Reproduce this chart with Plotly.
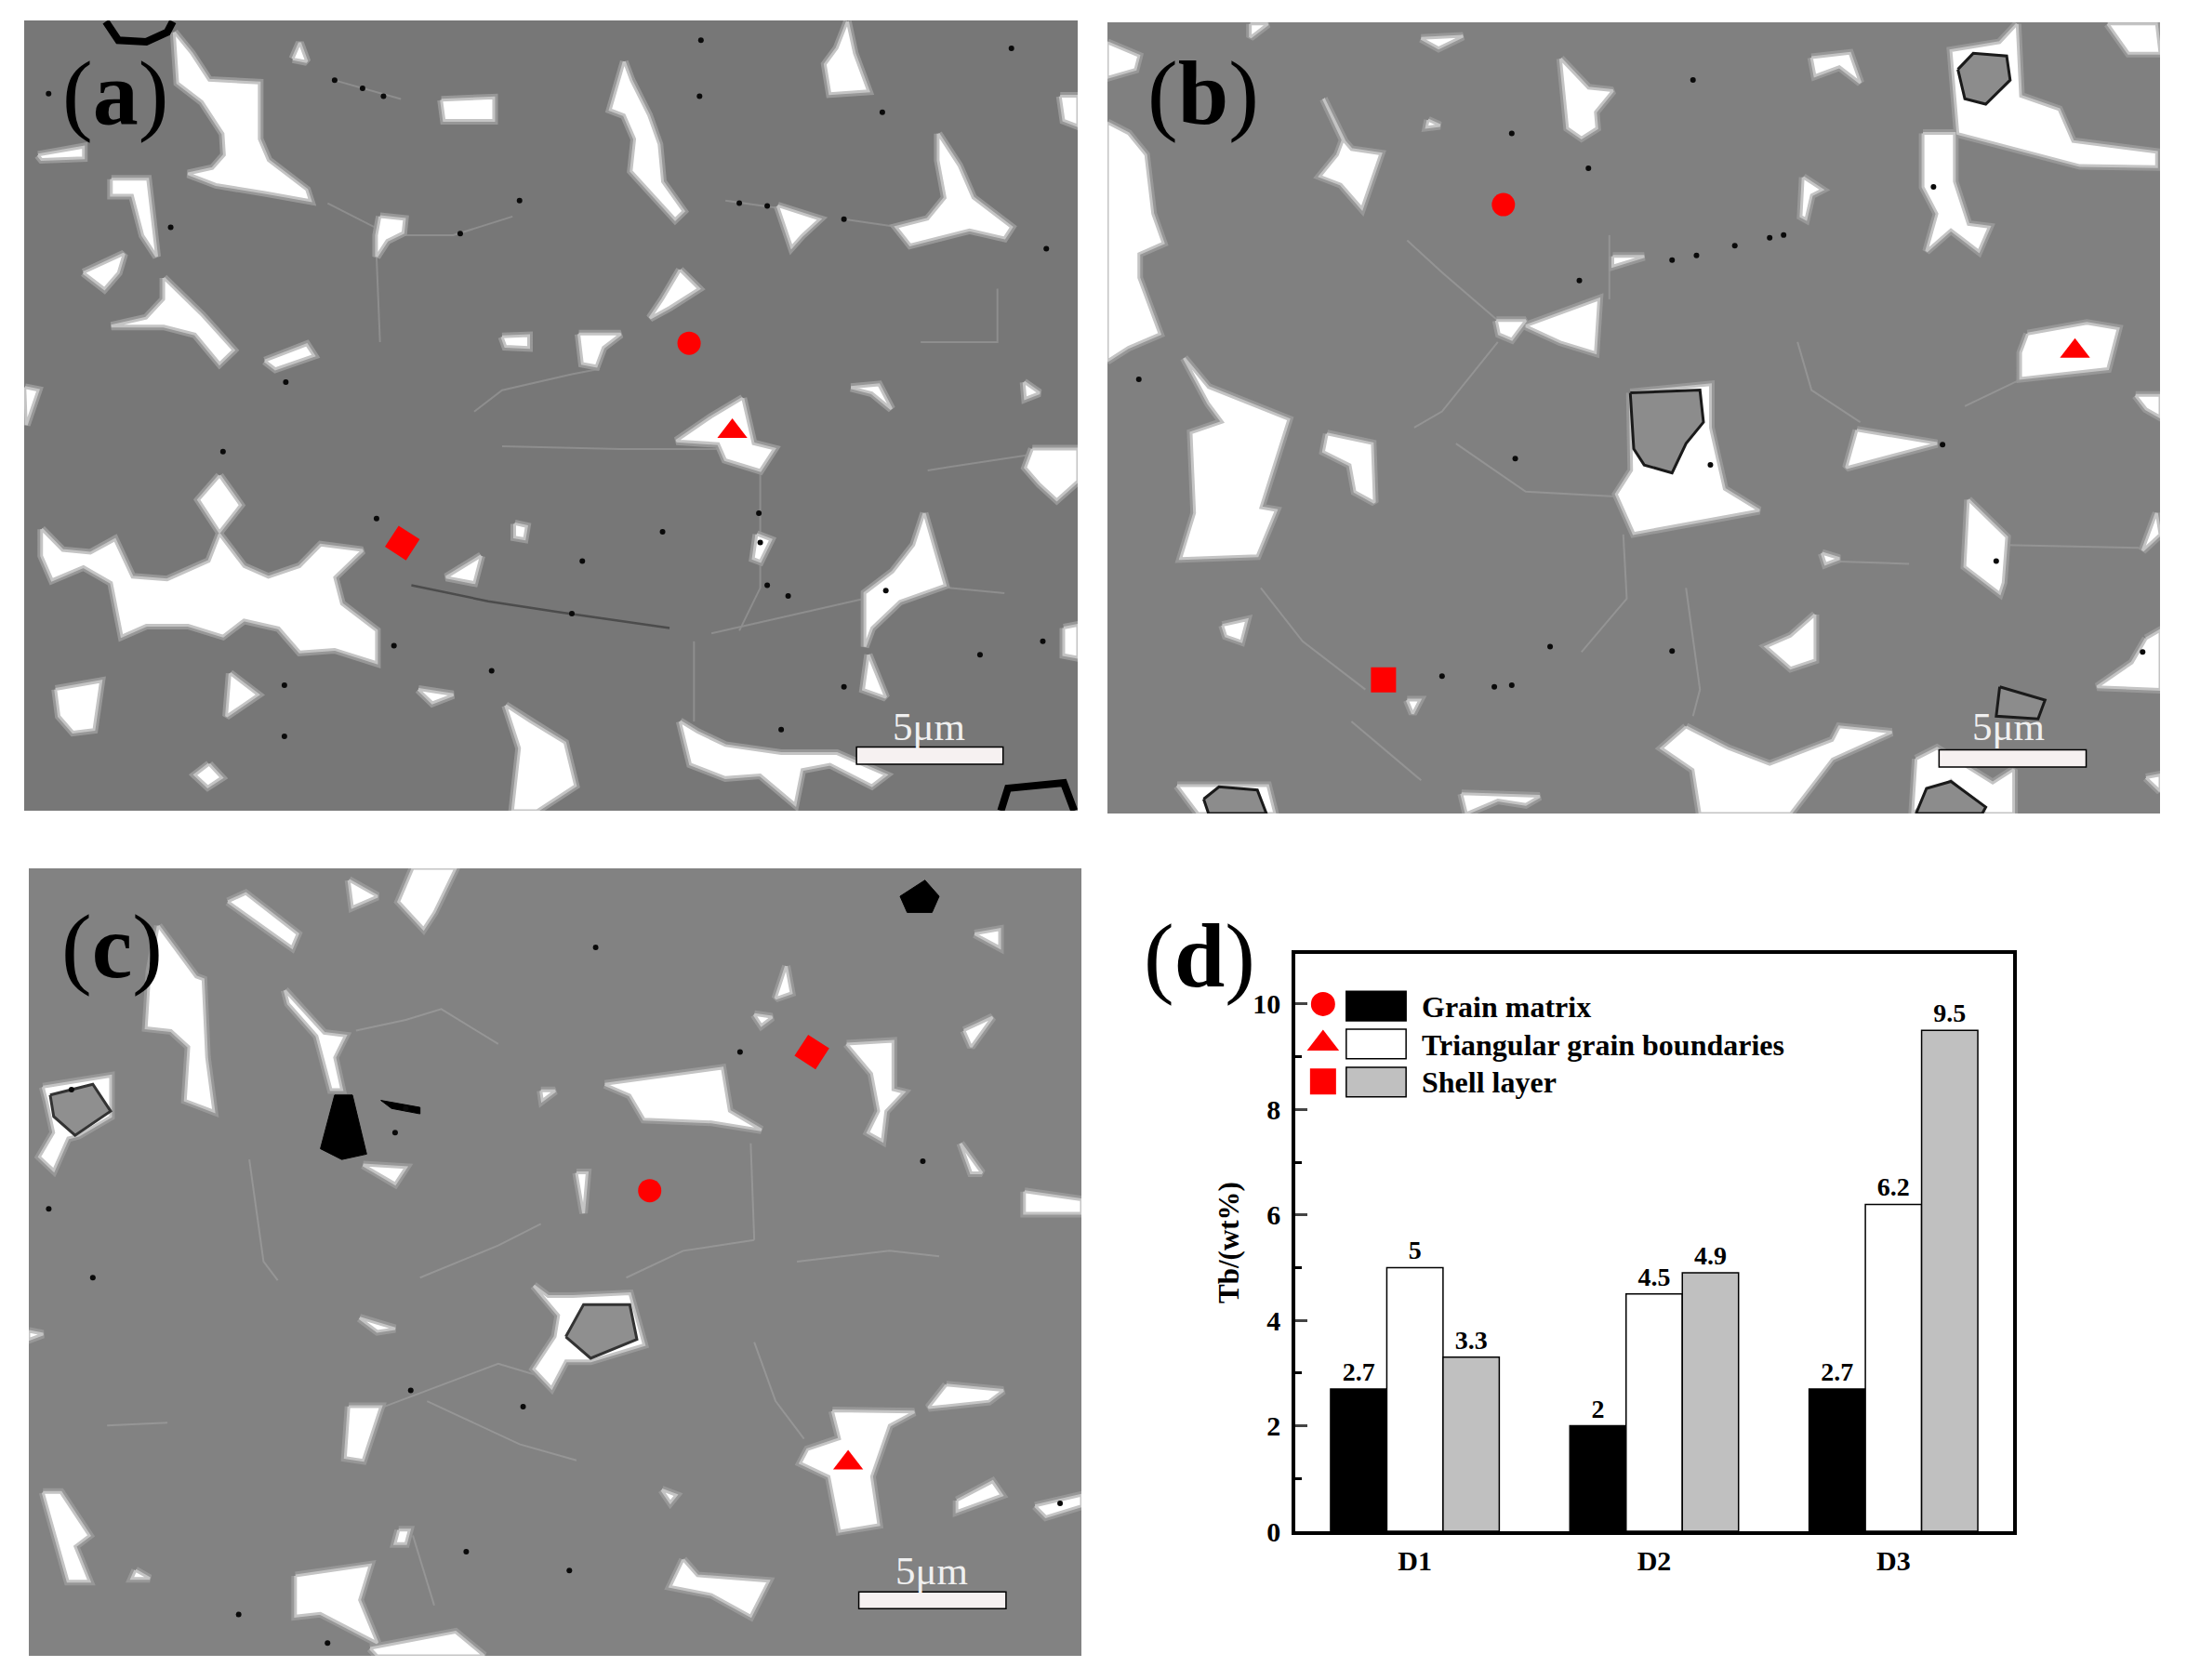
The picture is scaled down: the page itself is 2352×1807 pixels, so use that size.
import plotly.graph_objs as go

WIDTH = 2352
HEIGHT = 1807
SERIF = 'Liberation Serif'

# bar chart values, panel (d)
SAMPLES = ['D1', 'D2', 'D3']
SAMPLE_POS = [0, 1, 2]
GRAIN_MATRIX = [2.7, 2, 2.7]
TRIANGULAR = [5, 4.5, 6.2]
SHELL_LAYER = [3.3, 4.9, 9.5]
LEGEND_LABELS = ['Grain matrix', 'Triangular grain boundaries', 'Shell layer']
Y_TICKS = [0, 2, 4, 6, 8, 10]

# micrograph outlines, each panel in its own units
A_WHITE = [
    [(250, 60), (275, 100), (300, 150), (372, 155), (372, 260), (385, 300), (440, 355), (445, 375), (380, 360), (310, 345), (270, 325), (305, 315), (322, 290), (320, 250), (290, 190), (255, 155)],
    [(420, 110), (430, 80), (440, 115)],
    [(633, 187), (708, 183), (708, 225), (637, 225)],
    [(895, 115), (905, 150), (930, 215), (945, 270), (950, 340), (980, 395), (968, 410), (940, 370), (905, 320), (910, 260), (895, 215), (875, 205)],
    [(1215, 40), (1225, 100), (1245, 170), (1190, 175), (1183, 120), (1200, 90)],
    [(1520, 180), (1545, 180), (1545, 235), (1525, 225)],
    [(1345, 250), (1375, 310), (1395, 370), (1450, 425), (1440, 445), (1390, 430), (1305, 458), (1285, 425), (1330, 410), (1355, 370), (1345, 300)],
    [(1115, 385), (1175, 410), (1150, 440), (1135, 462)],
    [(545, 405), (580, 410), (578, 435), (555, 450), (540, 480), (540, 440)],
    [(160, 335), (212, 335), (225, 480), (205, 440), (190, 365), (160, 365)],
    [(55, 290), (120, 275), (120, 295), (60, 298)],
    [(120, 510), (178, 475), (170, 510), (150, 540)],
    [(235, 520), (290, 590), (335, 655), (315, 680), (280, 625), (235, 610), (160, 610), (210, 595), (235, 560)],
    [(975, 505), (1002, 540), (960, 575), (932, 595), (950, 560)],
    [(720, 630), (758, 628), (758, 650), (725, 648)],
    [(830, 625), (890, 625), (865, 650), (855, 685), (835, 680)],
    [(380, 675), (440, 645), (450, 665), (395, 690)],
    [(1065, 745), (1080, 830), (1110, 840), (1090, 880), (1040, 860), (1030, 830), (970, 825), (1020, 780)],
    [(1220, 725), (1260, 720), (1278, 765), (1250, 735)],
    [(1468, 715), (1490, 735), (1470, 745)],
    [(36, 725), (55, 730), (38, 795)],
    [(1480, 840), (1545, 840), (1545, 900), (1515, 935), (1490, 905), (1470, 875)],
    [(315, 890), (345, 945), (315, 995), (285, 935)],
    [(60, 990), (90, 1030), (130, 1035), (165, 1010), (190, 1080), (240, 1085), (300, 1050), (315, 1000), (350, 1060), (385, 1080), (430, 1060), (460, 1020), (520, 1030), (480, 1080), (490, 1130), (540, 1180), (540, 1240), (480, 1215), (430, 1220), (400, 1175), (350, 1160), (320, 1190), (270, 1170), (210, 1170), (175, 1190), (160, 1090), (120, 1060), (75, 1085), (60, 1040)],
    [(690, 1040), (680, 1090), (640, 1080)],
    [(738, 980), (755, 985), (752, 1008), (738, 1005)],
    [(1325, 960), (1355, 1095), (1290, 1125), (1250, 1175), (1240, 1210), (1240, 1110), (1280, 1070), (1310, 1020)],
    [(1085, 1000), (1105, 1010), (1090, 1050), (1080, 1045)],
    [(1245, 1225), (1270, 1305), (1238, 1290)],
    [(1525, 1175), (1545, 1170), (1545, 1230), (1525, 1225)],
    [(80, 1290), (145, 1275), (135, 1365), (105, 1370), (85, 1340)],
    [(330, 1260), (370, 1300), (325, 1340)],
    [(300, 1430), (318, 1455), (298, 1472), (280, 1450)],
    [(725, 1320), (760, 1350), (810, 1390), (825, 1470), (770, 1517), (735, 1517), (745, 1400)],
    [(975, 1350), (1000, 1370), (1040, 1395), (1120, 1410), (1200, 1410), (1270, 1450), (1250, 1470), (1190, 1430), (1150, 1440), (1140, 1505), (1090, 1450), (1040, 1455), (990, 1430)],
    [(600, 1290), (650, 1300), (620, 1315)],
]
A_RINGS = [
    [(152, 40), (170, 75), (210, 78), (240, 60), (248, 40)],
    [(1435, 1517), (1445, 1475), (1525, 1465), (1540, 1517)],
]
A_SCRATCH = [(590, 1095), (700, 1125), (800, 1145), (960, 1175)]
A_BOUNDARIES = [
    [(470, 380), (560, 440), (650, 440), (735, 405)],
    [(480, 150), (575, 185)],
    [(1040, 375), (1120, 390)],
    [(1210, 410), (1290, 425)],
    [(680, 770), (720, 730), (820, 700), (860, 690)],
    [(720, 835), (890, 840), (1040, 840)],
    [(1090, 880), (1090, 1100), (1060, 1180)],
    [(1020, 1185), (1240, 1120)],
    [(1330, 880), (1480, 850)],
    [(1320, 640), (1430, 640), (1430, 540)],
    [(1360, 1100), (1440, 1110)],
    [(540, 480), (545, 640)],
    [(995, 1200), (995, 1350)],
]
A_SPECKS = [(1005, 75), (1003, 180), (745, 375), (1100, 385), (1265, 210), (480, 150), (550, 180), (820, 1148), (565, 1208), (705, 1255), (408, 1282), (408, 1378), (1130, 1115), (1270, 1105), (1405, 1225), (1495, 1200), (1210, 1285), (540, 970), (1088, 960), (1100, 1095), (1450, 90), (70, 175), (245, 425), (660, 437), (520, 165), (1060, 380), (1210, 410), (410, 715), (320, 845), (835, 1050), (950, 995), (1090, 1015), (1120, 1365), (1500, 465)]

B_WHITE = [
    [(20, 80), (65, 105), (60, 130), (20, 145)],
    [(20, 230), (50, 250), (75, 290), (85, 400), (100, 455), (65, 475), (65, 520), (95, 625), (50, 650), (20, 675)],
    [(225, 45), (250, 45), (225, 70)],
    [(470, 72), (530, 68), (495, 90)],
    [(670, 110), (710, 165), (745, 170), (720, 210), (722, 240), (700, 258), (680, 240)],
    [(330, 185), (360, 265), (370, 280), (412, 288), (385, 390), (355, 345), (325, 330), (350, 290), (358, 262)],
    [(480, 225), (497, 235), (478, 238)],
    [(1030, 108), (1085, 100), (1100, 155), (1070, 125), (1035, 142)],
    [(1325, 45), (1330, 180), (1385, 205), (1405, 265), (1525, 285), (1525, 312), (1415, 310), (1240, 250), (1230, 95), (1300, 80)],
    [(1455, 45), (1525, 45), (1530, 100), (1485, 100)],
    [(1190, 250), (1235, 250), (1235, 340), (1255, 420), (1285, 425), (1270, 470), (1230, 430), (1195, 470), (1210, 400), (1190, 350)],
    [(1018, 332), (1045, 355), (1030, 365), (1022, 410), (1015, 405)],
    [(745, 480), (790, 480), (745, 498)],
    [(620, 610), (725, 560), (720, 660), (670, 640)],
    [(578, 600), (620, 600), (600, 635), (582, 625)],
    [(1340, 625), (1425, 605), (1470, 615), (1455, 690), (1330, 708), (1330, 660)],
    [(1495, 740), (1530, 740), (1530, 780), (1510, 765)],
    [(130, 670), (165, 725), (280, 785), (240, 950), (262, 955), (235, 1040), (125, 1045), (145, 960), (140, 810), (185, 790), (165, 755)],
    [(335, 812), (400, 830), (403, 940), (375, 920), (368, 870), (330, 845)],
    [(770, 735), (885, 720), (885, 800), (905, 915), (955, 955), (775, 998), (750, 925), (772, 880)],
    [(1095, 805), (1210, 830), (1080, 875)],
    [(1255, 935), (1310, 1005), (1305, 1090), (1300, 1110), (1250, 1060)],
    [(1525, 960), (1530, 1000), (1505, 1030)],
    [(1045, 1035), (1070, 1045), (1050, 1055)],
    [(185, 1170), (220, 1160), (212, 1200), (190, 1190)],
    [(1035, 1150), (1035, 1235), (1000, 1250), (965, 1210), (1000, 1190)],
    [(450, 1310), (468, 1310), (458, 1335)],
    [(1510, 1195), (1530, 1180), (1530, 1290), (1440, 1285), (1490, 1240)],
    [(850, 1360), (910, 1400), (970, 1430), (1060, 1385), (1070, 1360), (1145, 1370), (1060, 1420), (1000, 1522), (870, 1522), (860, 1440), (815, 1400)],
    [(1180, 1420), (1210, 1400), (1290, 1465), (1320, 1440), (1320, 1522), (1280, 1522), (1230, 1460), (1175, 1522)],
    [(120, 1470), (250, 1470), (260, 1522), (150, 1522)],
    [(528, 1485), (640, 1490), (620, 1505), (580, 1497), (535, 1522)],
    [(1510, 1455), (1530, 1450), (1530, 1480)],
]
B_PARTICLES = [
    [(770, 735), (870, 730), (875, 790), (850, 830), (830, 885), (790, 870), (775, 840)],
    [(1240, 130), (1262, 100), (1310, 105), (1315, 150), (1280, 195), (1250, 185)],
    [(158, 1495), (180, 1472), (235, 1478), (248, 1522), (165, 1522)],
    [(1180, 1522), (1195, 1475), (1230, 1462), (1280, 1510), (1275, 1522)],
    [(1300, 1285), (1365, 1310), (1355, 1345), (1295, 1340)],
]
B_BOUNDARIES = [
    [(450, 450), (500, 510), (580, 600)],
    [(580, 640), (500, 770), (460, 800)],
    [(740, 440), (740, 560)],
    [(520, 830), (620, 920), (760, 930)],
    [(760, 1000), (765, 1120), (700, 1220)],
    [(240, 1100), (300, 1200), (390, 1290)],
    [(370, 1350), (470, 1460)],
    [(1010, 640), (1030, 730), (1100, 790)],
    [(1250, 760), (1330, 710)],
    [(1050, 1050), (1170, 1055)],
    [(1310, 1020), (1500, 1025)],
    [(850, 1100), (870, 1290), (860, 1340)],
]
B_SPECKS = [(920, 460), (865, 478), (830, 487), (990, 440), (970, 445), (697, 525), (1218, 832), (500, 1265), (65, 710), (1295, 1050), (1505, 1220), (885, 870), (655, 1210), (575, 1285), (600, 1282), (1205, 350), (710, 315), (860, 150), (600, 250), (830, 1218), (605, 858)]

C_WHITE = [
    [(320, 120), (345, 105), (418, 180), (410, 205)],
    [(490, 80), (530, 110), (495, 130)],
    [(580, 58), (640, 58), (610, 140), (595, 170), (560, 120)],
    [(222, 165), (275, 260), (285, 265), (290, 410), (300, 510), (260, 490), (265, 390), (240, 360), (205, 355), (210, 250)],
    [(400, 285), (455, 365), (485, 370), (470, 410), (480, 470), (465, 470), (445, 370), (405, 310)],
    [(1105, 240), (1112, 290), (1090, 300)],
    [(1370, 180), (1405, 172), (1405, 205)],
    [(1355, 360), (1395, 335), (1365, 390)],
    [(1190, 385), (1255, 380), (1255, 470), (1270, 475), (1245, 510), (1240, 565), (1220, 550), (1235, 510), (1225, 440)],
    [(850, 460), (1015, 430), (1025, 510), (1070, 545), (1000, 530), (905, 525), (885, 480)],
    [(1060, 330), (1085, 335), (1070, 350)],
    [(760, 472), (780, 472), (762, 490)],
    [(60, 465), (155, 445), (155, 520), (110, 555), (95, 560), (75, 620), (55, 595), (75, 550), (65, 490)],
    [(510, 610), (570, 615), (555, 645)],
    [(810, 625), (825, 625), (820, 700)],
    [(1350, 570), (1380, 625), (1365, 625)],
    [(1440, 660), (1520, 675), (1520, 700), (1440, 700)],
    [(750, 835), (770, 855), (805, 855), (885, 850), (905, 945), (830, 975), (795, 975), (775, 1025), (750, 990), (780, 930), (785, 890)],
    [(505, 895), (555, 915), (530, 920)],
    [(490, 1060), (535, 1060), (510, 1160), (485, 1155)],
    [(1170, 1068), (1285, 1070), (1250, 1095), (1225, 1190), (1235, 1280), (1180, 1292), (1165, 1190), (1125, 1165), (1135, 1140), (1180, 1120)],
    [(1330, 1020), (1410, 1030), (1390, 1050), (1305, 1062)],
    [(1345, 1235), (1395, 1200), (1408, 1225), (1345, 1255)],
    [(60, 1220), (85, 1220), (125, 1300), (105, 1320), (125, 1385), (95, 1385)],
    [(560, 1290), (575, 1290), (570, 1315), (555, 1315)],
    [(415, 1375), (520, 1355), (505, 1420), (530, 1500), (450, 1445), (415, 1450)],
    [(960, 1345), (980, 1375), (1080, 1385), (1055, 1450), (1000, 1410), (942, 1395)],
    [(930, 1215), (950, 1225), (942, 1238)],
    [(1455, 1245), (1520, 1225), (1520, 1245), (1470, 1265)],
    [(190, 1365), (210, 1380), (185, 1380)],
    [(40, 920), (60, 925), (40, 935)],
    [(520, 1510), (640, 1480), (680, 1524), (530, 1524)],
]
C_BLACK = [
    [(470, 480), (495, 480), (515, 590), (480, 600), (450, 580), (460, 530)],
    [(1265, 110), (1300, 80), (1320, 110), (1310, 140), (1275, 140)],
    [(535, 490), (590, 503), (590, 515), (550, 505)],
]
C_PARTICLES = [
    [(70, 480), (130, 460), (155, 510), (105, 555), (75, 520)],
    [(795, 930), (820, 870), (885, 870), (895, 935), (830, 970)],
]
C_BOUNDARIES = [
    [(500, 360), (570, 340), (620, 320), (700, 385)],
    [(350, 600), (370, 790), (390, 825)],
    [(590, 820), (700, 760), (760, 720)],
    [(880, 820), (960, 770), (1060, 750)],
    [(1055, 570), (1060, 750)],
    [(1120, 790), (1250, 770), (1320, 780)],
    [(540, 1060), (700, 980), (750, 1000)],
    [(600, 1050), (730, 1130), (810, 1160)],
    [(580, 1300), (610, 1430)],
    [(1060, 940), (1090, 1050), (1130, 1120)],
    [(150, 1095), (235, 1090)],
]
C_SPECKS = [(837, 205), (68, 692), (1297, 603), (335, 1447), (460, 1500), (577, 1030), (555, 550), (570, 505), (100, 470), (1490, 1240), (735, 1060), (655, 1330), (800, 1365), (130, 820), (1040, 400)]

# position of the red circle, triangle and square in each panel
A_POINTS = [(988, 642), (1050, 807), (577, 1016)]
B_POINTS = [(588, 383), (1408, 657), (416, 1272)]
C_POINTS = [(913, 658), (1192, 1165), (1141, 400)]


def domain(lo, hi, size, flip=False):
    if flip:
        return [1 - hi / size, 1 - lo / size]
    return [lo / size, hi / size]


def polygon_xy(polygons, closed=True):
    xs, ys = [], []
    for poly in polygons:
        xs += [p[0] for p in poly] + ([poly[0][0], None] if closed else [None])
        ys += [p[1] for p in poly] + ([poly[0][1], None] if closed else [None])
    return xs, ys


fig = go.Figure()


def add_fill(polygons, ax, fill, line, width):
    xs, ys = polygon_xy(polygons)
    fig.add_trace(go.Scatter(x=xs, y=ys, mode='lines', fill='toself', fillcolor=fill,
                             line=dict(color=line, width=width), xaxis='x' + ax, yaxis='y' + ax,
                             hoverinfo='skip', showlegend=False))


def add_lines(polylines, ax, color, width):
    xs, ys = polygon_xy(polylines, closed=False)
    fig.add_trace(go.Scatter(x=xs, y=ys, mode='lines', line=dict(color=color, width=width),
                             xaxis='x' + ax, yaxis='y' + ax, hoverinfo='skip', showlegend=False))


def add_white(polygons, ax):
    # soft bright rim round the white phase, two strokes
    xs, ys = polygon_xy(polygons)
    fig.add_trace(go.Scatter(x=xs, y=ys, mode='lines', line=dict(color='#979797', width=9),
                             xaxis='x' + ax, yaxis='y' + ax, hoverinfo='skip', showlegend=False))
    add_fill(polygons, ax, 'white', '#c4c4c4', 3)


def add_points(points, ax):
    # circle = matrix, triangle = triangular boundary, square = shell
    angles = [0, 0, 0]
    if ax in ('', '3'):
        angles = [0, 0, 33]
    fig.add_trace(go.Scatter(x=[p[0] for p in points], y=[p[1] for p in points], mode='markers',
                             marker=dict(symbol=['circle', 'triangle-up', 'square'], color='#ff0000', opacity=1,
                                         size=[25, 28, 27], angle=angles, line=dict(width=0)),
                             xaxis='x' + ax, yaxis='y' + ax, showlegend=False))


def add_specks(points, ax):
    fig.add_trace(go.Scatter(x=[p[0] for p in points], y=[p[1] for p in points], mode='markers',
                             marker=dict(color='#0a0a0a', size=6, line=dict(width=0)),
                             xaxis='x' + ax, yaxis='y' + ax, hoverinfo='skip', showlegend=False))


PANELS = {
    '': dict(px=(26, 1159), py=(22, 872), xr=[35, 1545], yr=[1517, 38], bg='#777777'),
    '2': dict(px=(1191, 2323), py=(24, 875), xr=[20, 1530], yr=[1522, 42], bg='#808080'),
    '3': dict(px=(31, 1163), py=(934, 1781), xr=[40, 1520], yr=[1524, 58], bg='#828282'),
}
shapes = []
annotations = []
layout_axes = {}
for name, p in PANELS.items():
    layout_axes['xaxis' + name] = dict(domain=domain(*p['px'], WIDTH), range=p['xr'], visible=False, anchor='y' + name, automargin=False)
    layout_axes['yaxis' + name] = dict(domain=domain(*p['py'], HEIGHT, flip=True), range=p['yr'], visible=False, anchor='x' + name, automargin=False)
    shapes.append(dict(type='rect', xref='x%s domain' % name, yref='y%s domain' % name, x0=0, x1=1, y0=0, y1=1,
                       fillcolor=p['bg'], line_width=0, layer='below'))

add_lines(A_BOUNDARIES, '', '#8e8e8e', 2)
add_white(A_WHITE, '')
add_lines(A_RINGS, '', 'black', 8)
add_lines([A_SCRATCH], '', '#4c4c4c', 2.5)
add_specks(A_SPECKS, '')

add_lines(B_BOUNDARIES, '2', '#949494', 2)
add_white(B_WHITE, '2')
add_fill(B_PARTICLES, '2', '#8c8c8c', '#1a1a1a', 3)
add_specks(B_SPECKS, '2')

add_lines(C_BOUNDARIES, '3', '#969696', 2)
add_white(C_WHITE, '3')
add_fill(C_PARTICLES, '3', '#8f8f8f', '#333333', 3)
add_fill(C_BLACK, '3', 'black', 'black', 1)
add_specks(C_SPECKS, '3')

add_points(A_POINTS, '')
add_points(B_POINTS, '2')
add_points(C_POINTS, '3')

# scale bars and their labels
BARS = [('', 1228, 1438, 1398, 1430, 1332, 1360), ('2', 1213, 1424, 1403, 1435, 1312, 1360), ('3', 1207, 1414, 1405, 1436, 1310, 1365)]
for name, x0, x1, y0, y1, tx, ty in BARS:
    shapes.append(dict(type='rect', xref='x' + name, yref='y' + name, x0=x0, x1=x1, y0=y0, y1=y1,
                       fillcolor='#f6f1f1', line=dict(color='black', width=1.5)))
    annotations.append(dict(text='5μm', xref='x' + name, yref='y' + name, x=tx, y=ty, showarrow=False,
                            font=dict(family=SERIF, size=43, color='#f0f0f0')))

# panel letters, placed in picture pixels
for label, px, py in [('(<b>a</b>)', 124, 100), ('(<b>b</b>)', 1294, 100), ('(<b>c</b>)', 120, 1018), ('(<b>d</b>)', 1290, 1028)]:
    annotations.append(dict(text=label, xref='paper', yref='paper', x=px / WIDTH, y=1 - py / HEIGHT, showarrow=False,
                            xanchor='center', yanchor='middle',
                            font=dict(family=SERIF, size=98, color='black')))

# panel (d)
SERIES = [(LEGEND_LABELS[0], GRAIN_MATRIX, 'black'), (LEGEND_LABELS[1], TRIANGULAR, 'white'), (LEGEND_LABELS[2], SHELL_LAYER, '#c0c0c0')]
for name, values, color in SERIES:
    fig.add_trace(go.Bar(x=SAMPLE_POS, y=values, name=name, marker=dict(color=color, line=dict(color='black', width=1.5)),
                         text=values, textposition='outside', cliponaxis=False,
                         textfont=dict(family=SERIF, size=28, color='black', weight='bold'),
                         xaxis='x4', yaxis='y4', showlegend=False))

font_d = dict(family=SERIF, size=30, color='black', weight='bold')
layout_axes['xaxis4'] = dict(domain=domain(1393, 2165, WIDTH), range=[-0.5, 2.5], anchor='y4', showline=True, mirror=True,
                             linecolor='black', linewidth=3.5, ticks='', tickvals=SAMPLE_POS, ticktext=SAMPLES,
                             tickfont=font_d, ticklabelstandoff=2, showgrid=False, zeroline=False, automargin=False)
layout_axes['yaxis4'] = dict(domain=domain(1026, 1647, HEIGHT, flip=True), range=[0, 10.95], anchor='x4', showline=True, mirror=True,
                             linecolor='black', linewidth=3.5, ticks='inside', ticklen=13, tickwidth=3, tickvals=Y_TICKS,
                             tickfont=font_d, showgrid=False, zeroline=False, ticklabelstandoff=6, automargin=False,
                             minor=dict(dtick=1, ticks='inside', ticklen=7, tickwidth=2.5, tickcolor='black', showgrid=False),
                             title=dict(text='Tb/(wt%)', font=dict(family=SERIF, size=31, color='black', weight='bold'), standoff=6))

# hand made legend: red symbol, swatch, label
LEG_SYMBOLS = ['circle', 'triangle-up', 'square']
LEG_FILLS = ['black', 'white', '#c0c0c0']
fig.add_trace(go.Scatter(x=[-0.384] * 3, y=[10.0, 9.25, 8.53], mode='markers',
                         marker=dict(symbol=LEG_SYMBOLS, color='#ff0000', opacity=1, size=[26, 30, 28], line=dict(width=0)),
                         xaxis='x4', yaxis='y4', showlegend=False))
for label, fill, yc, ty in zip(LEGEND_LABELS, LEG_FILLS, [9.96, 9.24, 8.52], [9.94, 9.22, 8.51]):
    shapes.append(dict(type='rect', xref='x4', yref='y4', x0=-0.287, x1=-0.037, y0=yc - 0.28, y1=yc + 0.28,
                       fillcolor=fill, line=dict(color='black', width=1.5)))
    annotations.append(dict(text=label, xref='x4', yref='y4', x=0.022, y=ty, xanchor='left', showarrow=False,
                            font=dict(family=SERIF, size=32, color='black', weight='bold')))

fig.update_layout(width=WIDTH, height=HEIGHT, margin=dict(l=0, r=0, t=0, b=0), paper_bgcolor='white', plot_bgcolor='white',
                  barmode='group', bargap=0.295, bargroupgap=0, shapes=shapes, annotations=annotations, showlegend=False,
                  **layout_axes)
fig.write_html('out.html', post_script="document.body.style.margin='0';document.documentElement.style.overflow='hidden';",
               config=dict(displayModeBar=False))
